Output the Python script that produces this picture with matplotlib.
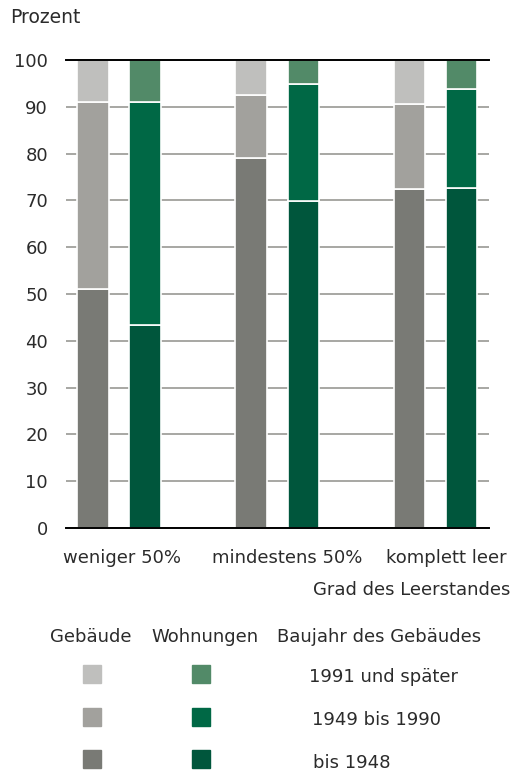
import numpy as np
import matplotlib
matplotlib.use('Agg')
from matplotlib import pyplot as plt
from matplotlib.patches import Rectangle

plt.rcParams['font.family'] = ['DejaVu Sans']

# data (Prozent)
categories = ['weniger 50%', 'mindestens 50%', 'komplett leer']
periods = ['bis 1948', '1949 bis 1990', '1991 und später']

gebaeude = {
    'bis 1948':        [51.0, 79.1, 72.4],
    '1949 bis 1990':   [40.0, 13.4, 18.1],
    '1991 und später': [9.0, 7.5, 9.5],
}
wohnungen = {
    'bis 1948':        [43.4, 69.9, 72.7],
    '1949 bis 1990':   [47.7, 25.0, 21.2],
    '1991 und später': [8.9, 5.1, 6.1],
}

grey_cols = ['#797a75', '#a2a19d', '#bfbfbd']
green_cols = ['#00563c', '#006845', '#528a68']
txt = '#2b2b2b'
fs = 13

W, H = 512, 776
fig = plt.figure(figsize=(W/100, H/100), dpi=100)
ax = fig.add_axes([66/W, 1-528/H, (489-66)/W, (528-60)/H])

def px(xp, yp):
    # pixel position -> figure fraction
    return xp/W, 1-yp/H

x = np.arange(len(categories))
off = 0.165
w = 0.2

for series, cols, dx in [(gebaeude, grey_cols, -off), (wohnungen, green_cols, off)]:
    bottom = np.zeros(len(categories))
    for p, c in zip(periods, cols):
        vals = np.array(series[p])
        ax.bar(x + dx, vals, w, bottom=bottom, color=c, edgecolor='white',
               linewidth=1.2, zorder=3)
        bottom += vals

ax.set_xlim(-0.335, 2.338)
ax.set_ylim(0, 100)
ax.set_yticks(range(0, 101, 10))
ax.yaxis.grid(True, color='#a0a09c', linewidth=1.3, zorder=1)
ax.set_axisbelow(True)
ax.tick_params(axis='y', length=0, pad=13, labelsize=fs, labelcolor=txt)
ax.set_xticks([])
for s in ['left', 'right']:
    ax.spines[s].set_visible(False)
for s in ['top', 'bottom']:
    ax.spines[s].set_color('black')
    ax.spines[s].set_linewidth(1.4)
    ax.spines[s].set_zorder(4)

# category labels
label_x = [0.02, 0.06, 0.07]
for xi, lx, lab in zip(x, label_x, categories):
    ax.text(xi + lx, -7.5, lab, ha='center', va='baseline', fontsize=fs,
            color=txt, transform=ax.transData)

fig.text(*px(10, 23), 'Prozent', ha='left', va='baseline', fontsize=13.5, color=txt)
fig.text(*px(510, 595), 'Grad des Leerstandes', ha='right', va='baseline',
         fontsize=fs, color=txt)

# legend
fig.text(*px(91, 642), 'Gebäude', ha='center', va='baseline', fontsize=fs, color=txt)
fig.text(*px(205, 642), 'Wohnungen', ha='center', va='baseline', fontsize=fs, color=txt)
fig.text(*px(379, 642), 'Baujahr des Gebäudes', ha='center', va='baseline',
         fontsize=fs, color=txt)

rows_y = [759, 717, 674]
base_y = [768, 725, 682]
label_xs = [313, 312, 309]
sq = 18
for i, p in enumerate(periods):
    yc = rows_y[i]
    for xc, col in [(92, grey_cols[i]), (201, green_cols[i])]:
        fig.patches.append(Rectangle(px(xc - sq/2, yc + sq/2), sq/W, sq/H,
                                     transform=fig.transFigure, color=col))
    fig.text(*px(label_xs[i], base_y[i]), p, ha='left', va='baseline',
             fontsize=fs, color=txt)

fig.savefig('out.png', dpi=100)
